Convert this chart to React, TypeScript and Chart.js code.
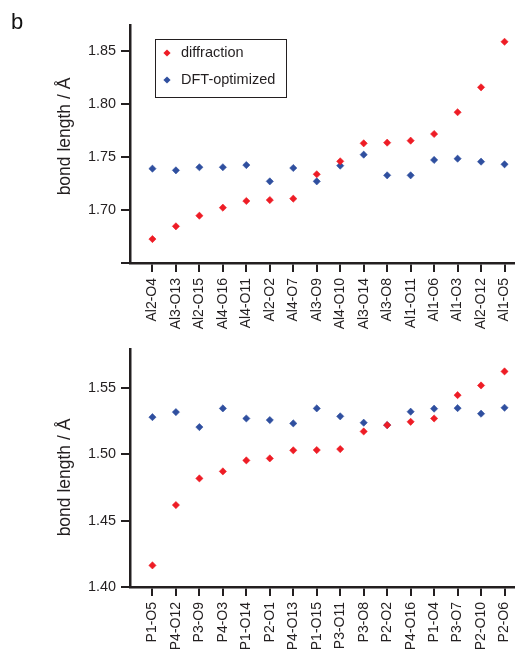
import React, { useEffect, useRef } from 'react';
import { Chart, registerables } from 'chart.js';

Chart.register(...registerables);

// ---- Data ----
const alLabels = ['Al2-O4', 'Al3-O13', 'Al2-O15', 'Al4-O16', 'Al4-O11', 'Al2-O2', 'Al4-O7', 'Al3-O9', 'Al4-O10', 'Al3-O14', 'Al3-O8', 'Al1-O11', 'Al1-O6', 'Al1-O3', 'Al2-O12', 'Al1-O5'];
const alDiffraction = [1.6726, 1.6846, 1.6946, 1.7022, 1.7085, 1.7094, 1.7107, 1.7337, 1.7459, 1.7629, 1.7635, 1.7654, 1.7717, 1.7922, 1.8157, 1.8587];
const alDft = [1.739, 1.7374, 1.7403, 1.7403, 1.7424, 1.727, 1.7396, 1.727, 1.7418, 1.7522, 1.7327, 1.7327, 1.7472, 1.7484, 1.7456, 1.7431];
const alTicks = [1.65, 1.7, 1.75, 1.8, 1.85];

const pLabels = ['P1-O5', 'P4-O12', 'P3-O9', 'P4-O3', 'P1-O14', 'P2-O1', 'P4-O13', 'P1-O15', 'P3-O11', 'P3-O8', 'P2-O2', 'P4-O16', 'P1-O4', 'P3-O7', 'P2-O10', 'P2-O6'];
const pDiffraction = [1.4163, 1.4618, 1.4819, 1.4872, 1.4955, 1.497, 1.5031, 1.5033, 1.504, 1.5173, 1.5221, 1.5246, 1.5271, 1.5447, 1.552, 1.5626];
const pDft = [1.5281, 1.5319, 1.5206, 1.5347, 1.5271, 1.5259, 1.5234, 1.5347, 1.5287, 1.5239, 1.5221, 1.5322, 1.5345, 1.5349, 1.5307, 1.5352];
const pTicks = [1.4, 1.45, 1.5, 1.55];

const seriesNames = ['diffraction', 'DFT-optimized'];
const yTitle = 'bond length / Å';
const panelLetter = 'b';

// ---- Styles ----
const INK = '#231f20';
const RED = '#ee1c25';
const BLUE = '#2f4f9f';
const FONT = '"Liberation Sans", Arial, Helvetica, sans-serif';

function diamond(ctx: CanvasRenderingContext2D, x: number, y: number, r: number, color: string) {
  ctx.beginPath();
  ctx.moveTo(x - r, y);
  ctx.lineTo(x, y - r);
  ctx.lineTo(x + r, y);
  ctx.lineTo(x, y + r);
  ctx.closePath();
  ctx.fillStyle = color;
  ctx.fill();
}

type PanelProps = {
  labels: string[];
  diff: number[];
  dft: number[];
  yMin: number;
  yMax: number;
  yTicks: number[];
  hideFirstLabel: boolean;
  top: number;
  height: number;
  padTop: number;
  xHeight: number;
  showLegend: boolean;
  showLetter: boolean;
  titleShift: number;
};

function Panel(p: PanelProps) {
  const ref = useRef<HTMLCanvasElement | null>(null);
  useEffect(() => {
    if (!ref.current) return;
    const overlay = {
      id: 'overlay',
      afterDraw(chart: any) {
        const ctx = chart.ctx as CanvasRenderingContext2D;
        const a = chart.chartArea;
        ctx.save();
        // y-axis title
        ctx.translate(65, (a.top + a.bottom) / 2 + p.titleShift);
        ctx.rotate(-Math.PI / 2);
        ctx.font = `17.5px ${FONT}`;
        ctx.fillStyle = INK;
        ctx.textAlign = 'center';
        ctx.textBaseline = 'middle';
        ctx.fillText(yTitle, 0, 0);
        ctx.restore();
        if (p.showLetter) {
          ctx.save();
          ctx.font = `22px ${FONT}`;
          ctx.fillStyle = '#111';
          ctx.textAlign = 'left';
          ctx.textBaseline = 'alphabetic';
          ctx.fillText(panelLetter, 11, 29);
          ctx.restore();
        }
        if (p.showLegend) {
          ctx.save();
          const lx = a.left + 25;
          const ly = a.top + 14;
          ctx.strokeStyle = INK;
          ctx.lineWidth = 1;
          ctx.strokeRect(lx + 0.5, ly + 0.5, 131, 58);
          ctx.font = `14.5px ${FONT}`;
          ctx.fillStyle = INK;
          ctx.textBaseline = 'middle';
          ctx.textAlign = 'left';
          const cols = [RED, BLUE];
          seriesNames.forEach((name, i) => {
            const yy = ly + 14 + i * 27;
            diamond(ctx, lx + 12, yy, 3.6, cols[i]);
            ctx.fillStyle = INK;
            ctx.fillText(name, lx + 26, yy);
          });
          ctx.restore();
        }
      },
    };

    const n = p.labels.length;
    const chart = new Chart(ref.current, {
      type: 'scatter',
      data: {
        datasets: [
          {
            label: seriesNames[0],
            data: p.diff.map((y, i) => ({ x: i, y })),
            pointStyle: 'rectRot',
            pointRadius: 3.6,
            pointBorderWidth: 0.6,
            backgroundColor: RED,
            borderColor: RED,
          },
          {
            label: seriesNames[1],
            data: p.dft.map((y, i) => ({ x: i, y })),
            pointStyle: 'rectRot',
            pointRadius: 3.6,
            pointBorderWidth: 0.6,
            backgroundColor: BLUE,
            borderColor: BLUE,
          },
        ],
      },
      options: {
        responsive: false,
        animation: false,
        devicePixelRatio: 1,
        layout: { padding: { top: p.padTop, left: 0, right: 0, bottom: 0 } },
        plugins: { legend: { display: false }, tooltip: { enabled: false } },
        scales: {
          x: {
            type: 'linear',
            min: -0.956,
            max: n - 1 + 0.42,
            afterBuildTicks: (ax: any) => {
              ax.ticks = p.labels.map((_, i) => ({ value: i }));
            },
            afterFit: (s: any) => {
              s.height = p.xHeight;
              s.paddingLeft = 0;
              s.paddingRight = 0;
            },
            ticks: {
              autoSkip: false,
              minRotation: 90,
              maxRotation: 90,
              padding: 6,
              color: INK,
              font: { family: FONT, size: 14 },
              callback: (v: any) => p.labels[Math.round(Number(v))] ?? '',
            },
            grid: {
              drawOnChartArea: false,
              drawTicks: true,
              tickLength: 9,
              tickWidth: 2,
              tickColor: INK,
              color: INK,
              lineWidth: 2,
            },
            border: { display: true, color: INK, width: 2.5 },
          },
          y: {
            type: 'linear',
            min: p.yMin,
            max: p.yMax,
            afterBuildTicks: (ax: any) => {
              ax.ticks = p.yTicks.map((v) => ({ value: v }));
            },
            afterFit: (s: any) => {
              s.width = 130;
              s.paddingTop = 0;
              s.paddingBottom = 0;
            },
            ticks: {
              padding: 5,
              color: INK,
              font: { family: FONT, size: 14.4 },
              callback: (v: any) => {
                const num = Number(v);
                if (p.hideFirstLabel && Math.abs(num - p.yTicks[0]) < 1e-9) return '';
                return num.toFixed(2);
              },
            },
            grid: {
              drawOnChartArea: false,
              drawTicks: true,
              tickLength: 9,
              tickWidth: 2,
              tickColor: INK,
              color: INK,
              lineWidth: 2,
            },
            border: { display: true, color: INK, width: 2.5 },
          },
        },
      },
      plugins: [overlay],
    } as any);
    return () => chart.destroy();
  }, []);

  return (
    <canvas
      ref={ref}
      width={519}
      height={p.height}
      style={{ position: 'absolute', left: 0, top: p.top, width: 519, height: p.height }}
    />
  );
}

export default function App() {
  return (
    <div
      style={{
        position: 'absolute',
        left: 0,
        top: 0,
        width: 519,
        height: 651,
        overflow: 'hidden',
        background: '#ffffff',
      }}
    >
      <Panel
        labels={alLabels}
        diff={alDiffraction}
        dft={alDft}
        yMin={1.65}
        yMax={1.8745}
        yTicks={alTicks}
        hideFirstLabel={true}
        top={0}
        height={340}
        padTop={25}
        xHeight={77}
        showLegend={true}
        showLetter={true}
        titleShift={-7.5}
      />
      <Panel
        labels={pLabels}
        diff={pDiffraction}
        dft={pDft}
        yMin={1.4}
        yMax={1.5795}
        yTicks={pTicks}
        hideFirstLabel={false}
        top={320}
        height={340}
        padTop={29}
        xHeight={73}
        showLegend={false}
        showLetter={false}
        titleShift={9.5}
      />
    </div>
  );
}
